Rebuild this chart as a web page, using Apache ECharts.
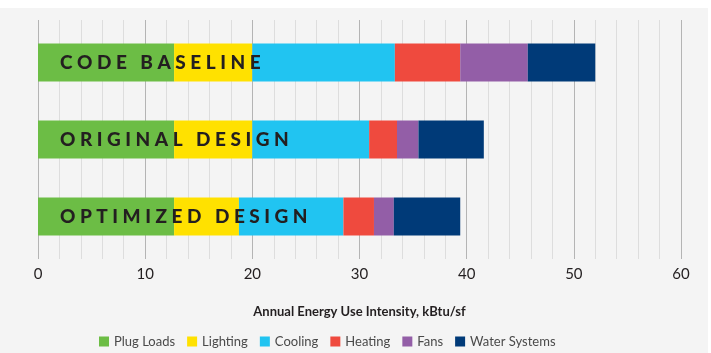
<!DOCTYPE html>
<html>
<head>
<meta charset="utf-8">
<script src="https://cdn.jsdelivr.net/npm/echarts@6/dist/echarts.min.js"></script>
<style>
  body { margin: 0; background: #fff; }
  #panel { position: absolute; left: 0; top: 8px; width: 708px; height: 345px; background: #f4f4f4; }
  #chart { position: absolute; left: 0; top: 0; width: 711px; height: 353px; }
</style>
</head>
<body>
<div id="panel"></div>
<div id="chart"></div>
<script>
// categories (top to bottom)
var categories = ['CODE BASELINE', 'ORIGINAL DESIGN', 'OPTIMIZED DESIGN'];
// kBtu/sf per end use
var plugLoads = [12.7, 12.7, 12.7];
var lighting = [7.3, 7.3, 6.05];
var cooling = [13.3, 10.9, 9.75];
var heating = [6.1, 2.6, 2.85];
var fans = [6.3, 2.0, 1.85];
var waterSystems = [6.3, 6.1, 6.2];
var xTicks = [0, 10, 20, 30, 40, 50, 60];

var chart = echarts.init(document.getElementById('chart'));

// spread the letters out (canvas text has no letter-spacing)
function spaced(name) {
  return name.split(' ').map(function (w) {
    return w.split('').join(' ');
  }).join('   ');
}

function barSeries(name, data, color) {
  return {
    name: name,
    type: 'bar',
    stack: 'eui',
    xAxisIndex: 1,
    yAxisIndex: 1,
    barWidth: 38,
    data: data,
    itemStyle: { color: color },
    emphasis: { disabled: true }
  };
}

var series = [
  barSeries('Plug Loads', plugLoads, '#6cbd45'),
  barSeries('Lighting', lighting, '#ffe100'),
  barSeries('Cooling', cooling, '#21c4f1'),
  barSeries('Heating', heating, '#ef4a3e'),
  barSeries('Fans', fans, '#935ea7'),
  barSeries('Water Systems', waterSystems, '#003a78')
];
// category names sit inside the bars
series[0].label = {
  show: true,
  position: 'insideLeft',
  distance: 22,
  formatter: function (p) { return spaced(p.name); },
  color: '#231f20',
  fontFamily: 'Lato',
  fontWeight: 900,
  fontSize: 19
};

var option = {
  animation: false,
  grid: [
    // gridlines + axis labels
    { left: 38, right: 30, top: 20, bottom: 94 },
    // bars
    { left: 38, right: 30, top: 24, bottom: 98 }
  ],
  legend: {
    left: 94,
    top: 330,
    itemWidth: 10,
    itemHeight: 10,
    itemGap: 12,
    icon: 'rect',
    textStyle: { color: '#4a4a4a', fontSize: 13, fontFamily: 'Lato' },
    data: ['Plug Loads', 'Lighting', 'Cooling', 'Heating', 'Fans', 'Water Systems']
  },
  xAxis: [
    {
      gridIndex: 0,
      type: 'value',
      min: xTicks[0],
      max: xTicks[xTicks.length - 1],
      interval: 10,
      name: 'Annual Energy Use Intensity, kBtu/sf',
      nameLocation: 'middle',
      nameGap: 46,
      nameTextStyle: { color: '#231f20', fontSize: 13, fontWeight: 'bold', fontFamily: 'Lato' },
      axisLine: { show: false },
      axisTick: { show: false },
      axisLabel: { color: '#231f20', fontSize: 15, fontFamily: 'Lato', margin: 8 },
      splitLine: { show: true, lineStyle: { color: '#b4b4b4', width: 1 } },
      minorTick: { show: false, splitNumber: 5 },
      minorSplitLine: { show: true, lineStyle: { color: '#dddddd', width: 1 } }
    },
    {
      gridIndex: 1,
      type: 'value',
      min: xTicks[0],
      max: xTicks[xTicks.length - 1],
      show: false
    }
  ],
  yAxis: [
    { gridIndex: 0, type: 'category', data: categories, show: false },
    { gridIndex: 1, type: 'category', data: categories, inverse: true, show: false }
  ],
  series: series
};

chart.setOption(option);
</script>
</body>
</html>
